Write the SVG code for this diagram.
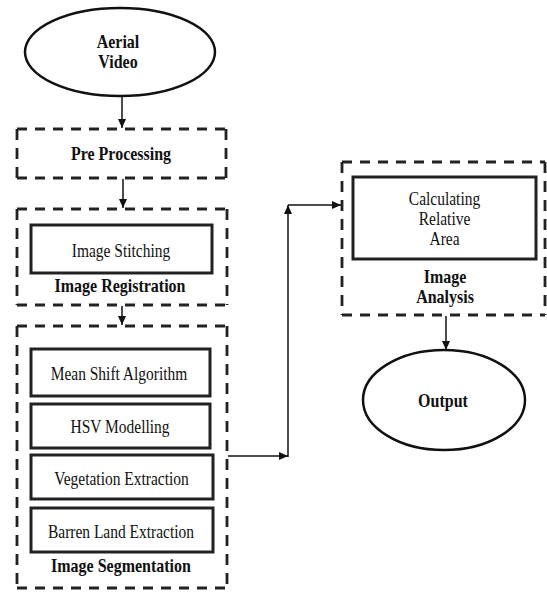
<svg xmlns="http://www.w3.org/2000/svg" width="547" height="592" viewBox="0 0 547 592">
<defs>
<marker id="ah" markerWidth="9" markerHeight="8" refX="9" refY="4" orient="auto" markerUnits="userSpaceOnUse">
<path d="M0,0 L9,4 L0,8 Z" fill="#111"/>
</marker>
<style>
.bg{fill:#fff}
.dh{stroke:#222;stroke-width:3;stroke-dasharray:10 8;fill:none}
.dv{stroke:#222;stroke-width:2.8;stroke-dasharray:11 8;fill:none}
.box{fill:#fff;stroke:#222;stroke-width:3}
.ell{fill:#fff;stroke:#111;stroke-width:2.5}
.con{stroke:#111;stroke-width:1.5;fill:none;marker-end:url(#ah)}
.b{font-family:"Liberation Serif","Times New Roman",serif;font-weight:bold;font-size:16px;fill:#111;text-anchor:middle}
.r{font-family:"Liberation Serif","Times New Roman",serif;font-size:15.5px;fill:#111;text-anchor:middle}
</style>
</defs>
<rect class="bg" x="0" y="0" width="547" height="592"/>

<g id="aerial-video">
<ellipse class="ell" cx="120" cy="52" rx="95" ry="44"/>
<text class="b" transform="translate(118,48) scale(1,1.22)">Aerial</text>
<text class="b" transform="translate(118,68) scale(1,1.22)">Video</text>
</g>

<g id="pre-processing">
<line class="dh" x1="17" y1="129" x2="226" y2="129"/>
<line class="dh" x1="17" y1="178" x2="226" y2="178"/>
<line class="dv" x1="17" y1="129" x2="17" y2="178"/>
<line class="dv" x1="226" y1="129" x2="226" y2="178"/>
<text class="b" transform="translate(121,160) scale(1,1.22)">Pre Processing</text>
</g>

<g id="image-registration">
<line class="dh" x1="17" y1="209" x2="227" y2="209"/>
<line class="dh" x1="17" y1="305" x2="227" y2="305"/>
<line class="dv" x1="17" y1="209" x2="17" y2="305"/>
<line class="dv" x1="227" y1="209" x2="227" y2="305"/>
<g id="image-stitching">
<rect class="box" x="31" y="225" width="181" height="48"/>
<text class="r" transform="translate(121,257) scale(1,1.22)">Image Stitching</text>
</g>
<text class="b" transform="translate(120,292) scale(1,1.22)">Image Registration</text>
</g>

<g id="image-segmentation">
<line class="dh" x1="17" y1="326" x2="227" y2="326"/>
<line class="dh" x1="17" y1="588" x2="227" y2="588"/>
<line class="dv" x1="17" y1="326" x2="17" y2="588"/>
<line class="dv" x1="227" y1="326" x2="227" y2="588"/>
<g id="mean-shift">
<rect class="box" x="31" y="349" width="179" height="47"/>
<text class="r" transform="translate(119,380) scale(1,1.22)">Mean Shift Algorithm</text>
</g>
<g id="hsv-modelling">
<rect class="box" x="31" y="404" width="179" height="44"/>
<text class="r" transform="translate(120,433) scale(1,1.22)">HSV Modelling</text>
</g>
<g id="vegetation-extraction">
<rect class="box" x="31" y="455" width="182" height="44"/>
<text class="r" transform="translate(121.5,485) scale(1,1.22)">Vegetation Extraction</text>
</g>
<g id="barren-land-extraction">
<rect class="box" x="31" y="508" width="182" height="44"/>
<text class="r" transform="translate(121,538) scale(1,1.22)">Barren Land Extraction</text>
</g>
<text class="b" transform="translate(121,572) scale(1,1.22)">Image Segmentation</text>
</g>

<g id="image-analysis">
<line class="dh" x1="342" y1="162" x2="545" y2="162"/>
<line class="dh" x1="342" y1="315" x2="545" y2="315"/>
<line class="dv" x1="342" y1="162" x2="342" y2="315"/>
<line class="dv" x1="545" y1="162" x2="545" y2="315"/>
<g id="calculating-relative-area">
<rect class="box" x="353" y="177" width="183" height="82"/>
<text class="r" transform="translate(444.5,205) scale(1,1.22)">Calculating</text>
<text class="r" transform="translate(444.5,225) scale(1,1.22)">Relative</text>
<text class="r" transform="translate(444.5,245) scale(1,1.22)">Area</text>
</g>
<text class="b" transform="translate(445,283) scale(1,1.22)">Image</text>
<text class="b" transform="translate(445,303) scale(1,1.22)">Analysis</text>
</g>

<g id="output">
<ellipse class="ell" cx="444" cy="400" rx="81" ry="50"/>
<text class="b" transform="translate(443,407) scale(1,1.22)">Output</text>
</g>

<g id="connectors">
<line class="con" x1="122" y1="97" x2="122" y2="128"/>
<line class="con" x1="123" y1="179" x2="123" y2="208"/>
<line class="con" x1="122" y1="306" x2="122" y2="325"/>
<line class="con" x1="228" y1="456" x2="288" y2="456"/>
<line class="con" x1="288" y1="457" x2="288" y2="205"/>
<line class="con" x1="288" y1="205" x2="341" y2="205"/>
<line class="con" x1="446" y1="316" x2="446" y2="350"/>
</g>
</svg>
